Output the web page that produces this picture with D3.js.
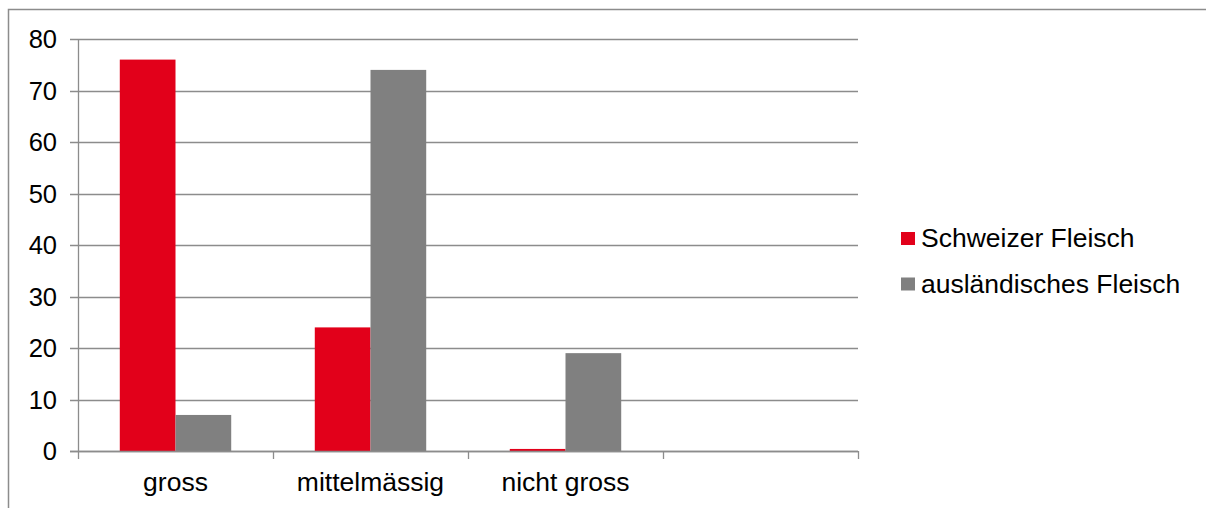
<!DOCTYPE html>
<html>
<head>
<meta charset="utf-8">
<script src="https://cdn.jsdelivr.net/npm/d3@7"></script>
<style>
  body { margin: 0; background: #fff; }
  text { font-family: "Liberation Sans", Arial, sans-serif; fill: #000; }
</style>
</head>
<body>
<svg width="1206" height="508"></svg>
<script>
var categories = ["gross", "mittelmässig", "nicht gross", ""];
var seriesNames = ["Schweizer Fleisch", "ausländisches Fleisch"];
var schweizer = [76, 24, 0.4, null];
var auslaendisch = [7, 74, 19, null];
var yTicks = [0, 10, 20, 30, 40, 50, 60, 70, 80];
var colors = ["#e2001a", "#808080"];

var svg = d3.select("svg"),
    margin = {top: 39, left: 78, right: 348, bottom: 57},
    width = 1206 - margin.left - margin.right,
    height = 508 - margin.top - margin.bottom,
    g = svg.append("g").attr("transform", "translate(" + margin.left + "," + margin.top + ")");

// outer frame (only top and left visible)
svg.append("rect")
    .attr("x", 8.5).attr("y", 9.5)
    .attr("width", 1300).attr("height", 600)
    .attr("fill", "none")
    .attr("stroke", "#8c8c8c")
    .attr("stroke-width", 1.5);

var x = d3.scaleBand().domain(categories).range([0, width]),
    y = d3.scaleLinear().domain([0, 80]).range([height, 0]);

var barW = x.bandwidth() / 3.5;

// gridlines
g.append("g")
    .selectAll("line")
    .data(yTicks)
    .enter().append("line")
    .attr("x1", -8).attr("x2", width)
    .attr("y1", function(d) { return Math.round(y(d)) + 0.5; })
    .attr("y2", function(d) { return Math.round(y(d)) + 0.5; })
    .attr("stroke", "#8c8c8c")
    .attr("stroke-width", 1.3);

// y labels
g.append("g")
    .selectAll("text")
    .data(yTicks)
    .enter().append("text")
    .attr("x", -21)
    .attr("y", function(d) { return y(d); })
    .attr("dy", "0.36em")
    .attr("text-anchor", "end")
    .style("font-size", "25.5px")
    .text(function(d) { return d; });

// bars
var series = [schweizer, auslaendisch];
series.forEach(function(vals, si) {
    g.append("g")
        .selectAll("rect")
        .data(categories.map(function(c, i) { return {cat: c, v: vals[i]}; })
            .filter(function(d) { return d.v != null; }))
        .enter().append("rect")
        .attr("x", function(d) { return x(d.cat) + barW * 0.75 + si * barW; })
        .attr("y", function(d) { return y(d.v); })
        .attr("width", barW)
        .attr("height", function(d) { return height - y(d.v); })
        .attr("fill", colors[si]);
});

// y axis line
g.append("line")
    .attr("x1", 0.5).attr("x2", 0.5)
    .attr("y1", 0).attr("y2", height + 1)
    .attr("stroke", "#8c8c8c")
    .attr("stroke-width", 1.3);

// x axis line and category ticks
g.append("line")
    .attr("x1", -8).attr("x2", width)
    .attr("y1", Math.round(height) + 0.5).attr("y2", Math.round(height) + 0.5)
    .attr("stroke", "#8c8c8c")
    .attr("stroke-width", 1.3);

var tickPos = categories.map(function(c) { return x(c); }).concat([width]);
g.append("g")
    .selectAll("line")
    .data(tickPos)
    .enter().append("line")
    .attr("x1", function(d) { return Math.round(d) + 0.5; })
    .attr("x2", function(d) { return Math.round(d) + 0.5; })
    .attr("y1", height).attr("y2", height + 8)
    .attr("stroke", "#8c8c8c")
    .attr("stroke-width", 1.3);

// category labels
g.append("g")
    .selectAll("text")
    .data(categories)
    .enter().append("text")
    .attr("x", function(d) { return x(d) + x.bandwidth() / 2; })
    .attr("y", height + 40)
    .attr("text-anchor", "middle")
    .style("font-size", "26.5px")
    .text(function(d) { return d; });

// legend
var legend = svg.append("g").attr("transform", "translate(901,232)");
seriesNames.forEach(function(name, i) {
    legend.append("rect")
        .attr("x", 0).attr("y", i * 45.5)
        .attr("width", 14).attr("height", 13)
        .attr("fill", colors[i]);
    legend.append("text")
        .attr("x", 20).attr("y", i * 45.5 + 15)
        .style("font-size", "26.5px")
        .text(name);
});
</script>
</body>
</html>
